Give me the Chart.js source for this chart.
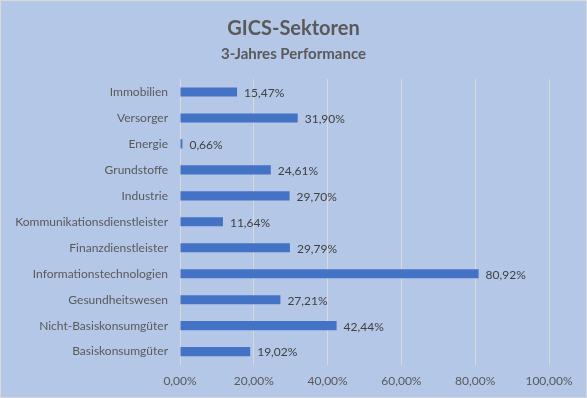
<!DOCTYPE html>
<html><head><meta charset="utf-8">
<script src="https://cdn.jsdelivr.net/npm/chart.js@4.4.1/dist/chart.umd.min.js"></script>
<style>
html,body{margin:0;padding:0;background:#fff;}
#wrap{position:absolute;left:0;top:0;width:585px;height:396px;border:1px solid #D9D9D9;background:#B4C7E7;}
</style></head><body>
<div id="wrap"><canvas id="c" width="585" height="396"></canvas></div>
<script>
const categories = ["Immobilien","Versorger","Energie","Grundstoffe","Industrie","Kommunikationsdienstleister","Finanzdienstleister","Informationstechnologien","Gesundheitswesen","Nicht-Basiskonsumgüter","Basiskonsumgüter"];
const performance = [15.47,31.90,0.66,24.61,29.70,11.64,29.79,80.92,27.21,42.44,19.02];
const xTicks = [0,20,40,60,80,100];

const fmt = v => v.toFixed(2).replace('.', ',') + '%';

const labelPlugin = {
  id: 'barLabels',
  afterDatasetsDraw(chart) {
    const ctx = chart.ctx;
    const meta = chart.getDatasetMeta(0);
    ctx.save();
    ctx.font = '12px Lato, "Open Sans", sans-serif';
    ctx.fillStyle = '#404040';
    ctx.textAlign = 'left';
    ctx.textBaseline = 'middle';
    meta.data.forEach((el, i) => {
      ctx.fillText(fmt(performance[i]), el.x + 7, el.y + 1);
    });
    ctx.restore();
  }
};

new Chart(document.getElementById('c'), {
  type: 'bar',
  data: {
    labels: categories,
    datasets: [{
      data: performance,
      backgroundColor: '#4472C4',
      barPercentage: 0.7,
      categoryPercentage: 0.5
    }]
  },
  options: {
    indexAxis: 'y',
    responsive: false,
    animation: false,
    layout: { padding: { left: 0, right: 0, top: 16, bottom: 0 } },
    plugins: {
      legend: { display: false },
      tooltip: { enabled: false },
      title: {
        display: true,
        text: 'GICS-Sektoren',
        color: '#595959',
        font: { family: 'Lato, "Open Sans", sans-serif', size: 20, weight: 'bold' },
        padding: { top: 0, bottom: 4 }
      },
      subtitle: {
        display: true,
        text: '3-Jahres Performance',
        color: '#595959',
        font: { family: 'Lato, "Open Sans", sans-serif', size: 15, weight: 'bold' },
        padding: { top: 0, bottom: 16 }
      }
    },
    scales: {
      x: {
        min: 0, max: 100,
        afterBuildTicks: s => { s.ticks = xTicks.map(v => ({ value: v })); },
        ticks: {
          callback: v => fmt(v),
          color: '#595959',
          font: { family: 'Lato, "Open Sans", sans-serif', size: 12 },
          padding: 9,
          maxRotation: 0
        },
        grid: { color: '#D9D9D9', drawTicks: false, lineWidth: 1 },
        border: { display: false }
      },
      y: {
        afterFit: s => { s.width = 179; },
        ticks: {
          color: '#595959',
          font: { family: 'Lato, "Open Sans", sans-serif', size: 12 },
          padding: 12,
          autoSkip: false
        },
        grid: { display: false, drawTicks: false },
        border: { display: false }
      },
      yRight: {
        position: 'right',
        afterFit: s => { s.width = 37; },
        ticks: { display: false },
        grid: { display: false, drawTicks: false },
        border: { display: false }
      }
    }
  },
  plugins: [labelPlugin]
});
</script>
</body></html>
